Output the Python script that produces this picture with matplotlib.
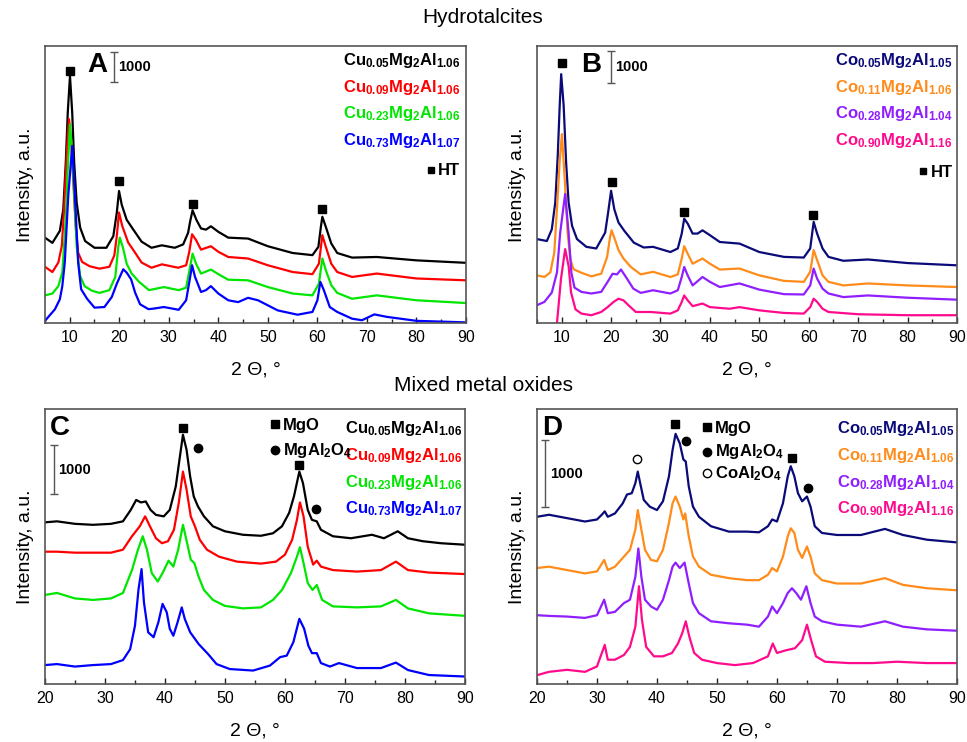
import matplotlib
matplotlib.use('Agg')
import matplotlib.pyplot as plt
from matplotlib.ticker import MultipleLocator

plt.rcParams['font.family'] = ['Liberation Sans', 'DejaVu Sans']
plt.rcParams['mathtext.fontset'] = 'custom'
plt.rcParams['mathtext.rm'] = 'Liberation Sans'
plt.rcParams['mathtext.bf'] = 'Liberation Sans:bold'

# ---- Panel A: Cu hydrotalcites (2theta, counts) ----
a1_t = [5, 6.5, 8, 8.7, 9.2, 9.6, 10.05, 10.5, 10.9, 11.4, 12.1, 13.1, 15, 17.4, 18.8, 19.5, 19.95, 20.5, 21.5, 22.8,
        24.5, 26.5, 28.6, 31.2, 32.9, 33.9, 34.3, 34.8, 35.6, 36.5, 37.5, 38.5, 40, 42, 46, 50, 55, 59, 60.2, 60.7,
        61, 61.7, 62.8, 64, 67, 72, 80, 90]
a1_i = [2780, 2610, 3000, 3700, 5220, 6850, 8050, 6850, 5220, 3920, 3110, 2670, 2450, 2450, 2830, 3590, 4300, 3850,
        3360, 3050, 2650, 2450, 2530, 2450, 2560, 2940, 3300, 3670, 3350, 3080, 3040, 3150, 2970, 2780, 2750, 2500,
        2280, 2210, 2480, 3130, 3460, 3130, 2590, 2280, 2130, 2150, 2040, 1960]
a2_t = [5, 6.5, 7.7, 8.4, 8.9, 9.4, 9.85, 10.3, 10.7, 11.2, 11.7, 12.5, 14, 16, 18, 19.0, 19.5, 19.95, 20.6, 21.8,
        23.2, 24.5, 26.5, 28.6, 31.9, 33.5, 34.1, 34.7, 35.5, 36.5, 38.5, 40, 42, 46, 50, 55, 59, 60.3, 61, 61.7,
        62.8, 64, 67, 72, 80, 90]
a2_i = [1830, 1660, 1970, 2510, 3810, 5500, 6640, 5900, 4680, 3160, 2290, 1990, 1850, 1770, 1830, 2200, 2830, 3600,
        3160, 2620, 2290, 1970, 1800, 1910, 1800, 1880, 2290, 2890, 2700, 2390, 2500, 2320, 2150, 2100, 1880, 1660,
        1590, 1930, 2860, 2480, 1930, 1660, 1500, 1610, 1450, 1390]
a3_t = [5, 6.5, 7.7, 8.5, 9.2, 9.6, 10.05, 10.5, 10.9, 11.4, 12.1, 13, 14.5, 16, 18, 19.2, 19.8, 20.1, 20.7, 21.5,
        22.5, 24, 26, 29, 32, 33.5, 34.3, 34.8, 35.5, 36.5, 38.5, 40, 42, 46, 50, 55, 59, 60.3, 61, 61.7, 62.8, 64,
        67, 72, 80, 90]
a3_i = [900, 960, 1200, 1640, 3380, 5000, 6470, 5500, 4250, 2510, 1530, 1200, 1050, 980, 1070, 1500, 2480, 2780, 2480,
        1930, 1610, 1340, 1070, 1170, 1070, 1150, 1830, 2260, 1930, 1610, 1740, 1590, 1410, 1390, 1170, 960, 900,
        1280, 2100, 1720, 1230, 980, 790, 900, 740, 650]
a4_t = [5, 7, 8, 8.5, 9.0, 9.7, 10.5, 11.05, 11.7, 12.3, 13.5, 15, 17, 18.5, 19.5, 20.8, 21.5, 22.4, 23.2, 24.2,
        25.9, 27, 29, 32, 33.5, 34.2, 34.7, 35.3, 36.5, 37.5, 38.5, 40, 42, 44, 46, 48, 52, 56, 59, 60, 60.6, 61.3,
        62.5, 64, 67, 69, 71.5, 74, 80, 90]
a4_i = [70, 445, 770, 1200, 1970, 4140, 5770, 4140, 1970, 1100, 790, 500, 520, 850, 1280, 1750, 1640, 1420, 990, 610,
        450, 470, 520, 430, 740, 1390, 1880, 1500, 1010, 1070, 1200, 960, 740, 680, 820, 740, 410, 270, 360, 740,
        1340, 1070, 520, 360, 140, 90, 280, 200, 70, 20]
a_ht_t = [10, 20, 34.8, 60.9]
a_ht_i = [8220, 4630, 3870, 3720]

# ---- Panel B: Co hydrotalcites ----
b1_t = [5, 7, 8, 8.7, 9.2, 9.6, 9.9, 10.4, 10.9, 11.4, 12.1, 13.1, 15, 17, 18.8, 19.4, 20, 20.65, 21.5, 22.7, 24.6,
        26.6, 28.5, 32, 33.5, 34.3, 34.8, 35.5, 36.5, 37.5, 38.5, 40, 42, 46, 50, 55, 59, 60.3, 61, 61.7, 62.8, 64,
        67, 72, 80, 90]
b1_i = [2590, 2530, 2890, 3720, 5160, 6710, 7680, 6710, 4950, 3720, 3000, 2590, 2350, 2300, 2790, 3410, 4080, 3510,
        3100, 2840, 2480, 2330, 2350, 2190, 2300, 2760, 3220, 3070, 2760, 2760, 2860, 2710, 2500, 2450, 2190, 2040,
        2020, 2300, 3120, 2760, 2300, 2040, 1920, 1960, 1850, 1780]
b2_t = [5, 6.5, 7.7, 8.5, 9.2, 9.6, 10.05, 10.7, 11.2, 11.75, 12.4, 14, 16, 18, 19.2, 19.8, 20.1, 20.7, 21.5, 22.5,
        24, 26, 28.5, 32, 33.5, 34.3, 34.8, 35.5, 36.5, 38.5, 40, 42, 46, 50, 55, 59, 60.3, 61, 61.7, 62.8, 64, 67,
        72, 80, 90]
b2_i = [1470, 1420, 1560, 2170, 3920, 5000, 5830, 4230, 2790, 1970, 1660, 1550, 1440, 1520, 2040, 2660, 2860, 2610,
        2250, 1990, 1730, 1500, 1580, 1420, 1500, 1990, 2370, 2140, 1830, 1990, 1830, 1650, 1680, 1470, 1300, 1270,
        1580, 2250, 1940, 1470, 1270, 1160, 1220, 1160, 1110]
b3_t = [5, 6.5, 8, 9.05, 9.7, 10.7, 11.4, 11.95, 12.6, 14, 16, 18, 19.3, 20.3, 21.2, 22, 23, 24.5, 26, 28.5, 32,
        33.5, 34.3, 34.8, 35.5, 36.5, 38.5, 40, 42, 46, 50, 55, 59, 60.3, 61, 61.7, 62.8, 64, 67, 72, 80, 90]
b3_i = [550, 650, 940, 1560, 2790, 3980, 2790, 1560, 1090, 960, 910, 960, 1270, 1520, 1500, 1650, 1420, 1060, 930,
        1010, 910, 1010, 1420, 1730, 1470, 1160, 1420, 1270, 1110, 1220, 1030, 890, 880, 1160, 1680, 1370, 1060, 910,
        800, 850, 780, 720]
b4_t = [9.05, 9.85, 10.7, 11.4, 11.9, 12.8, 14, 16, 18, 19.3, 20.5, 21.5, 22.5, 23.5, 25, 28, 32, 33.5, 34.3, 34.8,
        35.5, 36.5, 38.5, 40, 44, 46, 50, 55, 59, 60.3, 61, 61.7, 62.8, 64, 70, 80, 90]
b4_i = [0, 1350, 2280, 1760, 940, 420, 290, 240, 340, 490, 650, 750, 700, 550, 340, 340, 290, 390, 650, 850, 700,
        520, 600, 490, 440, 490, 390, 310, 290, 490, 750, 650, 440, 340, 270, 240, 240]
b_ht_t = [10, 20.25, 34.8, 60.9]
b_ht_i = [8020, 4360, 3420, 3320]

# ---- Panel C: Cu mixed oxides ----
c1_t = [20, 22, 25, 28, 31, 33, 34.3, 35.2, 36, 36.8, 37.6, 38.5, 39.8, 40.8, 41.8, 42.5, 43, 43.6, 44.2, 44.8, 45.5,
        46.5, 48, 50, 53, 56, 58, 59.5, 60.7, 61.5, 62.4, 63, 63.8, 64.5, 65.3, 66, 68, 71, 74.5, 76.5, 78.8, 80.5,
        83, 86, 90]
c1_i = [3250, 3270, 3220, 3200, 3220, 3270, 3500, 3700, 3650, 3670, 3500, 3400, 3370, 3500, 3970, 4580, 5010, 4710,
        4170, 3770, 3570, 3370, 3170, 3070, 3000, 2980, 3030, 3170, 3440, 3770, 4270, 4040, 3500, 3300, 3270, 3100,
        2970, 2930, 3000, 2930, 3070, 2930, 2870, 2830, 2800]
c2_t = [20, 22, 25, 28, 31, 33, 34.5, 35.8, 36.7, 37.5, 38.5, 39.5, 40.5, 41.5, 42.3, 43, 43.6, 44.3, 45, 45.8, 47,
        49, 52, 56, 58.5, 60, 61.2, 62, 62.5, 63.1, 63.8, 64.7, 65.3, 66, 68, 72, 76, 78.5, 80.5, 84, 90]
c2_i = [2660, 2660, 2640, 2640, 2640, 2700, 2970, 3170, 3370, 3170, 2930, 2830, 2870, 3100, 3640, 4270, 3910, 3370,
        3170, 2900, 2700, 2560, 2460, 2420, 2460, 2600, 2900, 3300, 3650, 3370, 2760, 2400, 2480, 2360, 2290, 2260,
        2290, 2460, 2290, 2240, 2210]
c3_t = [20, 22, 25, 28, 31, 33, 34.5, 35.5, 36.3, 37, 37.8, 38.8, 39.6, 40.6, 41.4, 42.2, 43, 43.7, 44.3, 44.9, 45.6,
        46.5, 48, 50, 53, 56, 58, 59.5, 61, 62, 62.5, 63.1, 63.8, 64.6, 65.3, 66.2, 68, 72, 76, 78.5, 80.5, 84, 90]
c3_i = [1790, 1830, 1720, 1690, 1720, 1830, 2290, 2700, 2970, 2700, 2230, 2060, 2230, 2480, 2360, 2700, 3200, 2830,
        2500, 2430, 2160, 1890, 1690, 1570, 1520, 1540, 1690, 1890, 2230, 2560, 2750, 2430, 2030, 1890, 1990, 1690,
        1560, 1540, 1560, 1690, 1520, 1420, 1370]
c4_t = [20, 22, 25, 28, 31, 33, 34.2, 35, 35.6, 36.1, 36.5, 37.2, 38.1, 38.9, 39.6, 40.3, 40.8, 41.4, 42.1, 42.8,
        43.3, 44.2, 45.6, 47.2, 48.6, 50.8, 54.7, 57.5, 59.2, 60.3, 61.4, 62.4, 63.2, 63.9, 64.5, 65.3, 66, 67.5,
        69, 72, 76, 78.5, 80.5, 84, 90]
c4_i = [380, 400, 350, 380, 400, 480, 700, 1170, 1910, 2310, 1640, 1040, 940, 1240, 1610, 1440, 1110, 970, 1240, 1540,
        1310, 1040, 805, 600, 400, 300, 270, 370, 540, 570, 840, 1310, 1110, 770, 620, 620, 420, 350, 420, 320, 320,
        430, 280, 180, 150]
c_mgo_t = [43.05, 62.4]
c_mgo_i = [5150, 4400]
c_spinel_t = [45.5, 65.25]
c_spinel_i = [4740, 3520]

# ---- Panel D: Co mixed oxides ----
d1_t = [20, 22, 25, 28, 30, 30.8, 31.3, 31.8, 33, 34.3, 35, 35.8, 36.4, 36.8, 37.2, 37.8, 38.8, 40, 41, 42, 42.6,
        43.1, 43.8, 44.4, 44.8, 45.3, 46, 47, 49, 52, 55, 57, 58.5, 59.2, 60, 61, 61.8, 62.3, 62.9, 63.5, 64.2, 65,
        65.6, 66.3, 67.5, 70, 74, 78, 81, 85, 90]
d1_i = [2480, 2510, 2460, 2410, 2440, 2510, 2560, 2480, 2530, 2680, 2810, 2830, 2980, 3150, 2980, 2730, 2630, 2580,
        2710, 3080, 3470, 3710, 3570, 3330, 3300, 2930, 2630, 2480, 2340, 2260, 2260, 2250, 2340, 2440, 2410, 2680,
        3080, 3230, 3080, 2830, 2710, 2780, 2630, 2340, 2240, 2210, 2210, 2300, 2210, 2140, 2100]
d2_t = [20, 22, 25, 28, 30, 31.2, 31.8, 33, 34.5, 35.5, 36.4, 36.8, 37.3, 38, 39, 40, 41, 42, 42.6, 43.1, 43.8, 44.4,
        44.7, 45.3, 46, 47, 49, 52, 55, 57, 58.5, 59.2, 60, 61, 61.8, 62.3, 62.9, 63.5, 64.2, 65, 65.6, 66.3, 67.5,
        70, 74, 78, 81, 85, 90]
d2_i = [1720, 1740, 1690, 1640, 1670, 1840, 1690, 1740, 1890, 1990, 2290, 2580, 2340, 1990, 1840, 1820, 1990, 2390,
        2680, 2780, 2630, 2440, 2530, 2190, 1890, 1740, 1620, 1570, 1540, 1540, 1620, 1720, 1670, 1890, 2190, 2310,
        2240, 1990, 1870, 2040, 1890, 1640, 1540, 1490, 1490, 1570, 1470, 1420, 1390]
d3_t = [20, 22, 25, 28, 30, 31.2, 31.8, 33, 34.5, 35.5, 36.4, 36.9, 37.4, 38, 39, 40, 41, 42, 42.6, 43.1, 43.8, 44.6,
        45.3, 46, 47, 49, 52, 55, 57, 58.5, 59.2, 60, 61, 61.8, 62.5, 63.2, 64, 64.9, 65.6, 66.3, 67.5, 70, 74, 78,
        81, 85, 90]
d3_i = [1020, 1010, 1000, 980, 1020, 1250, 1050, 1070, 1200, 1250, 1590, 2010, 1590, 1250, 1150, 1100, 1250, 1540,
        1740, 1800, 1720, 1800, 1490, 1200, 1050, 930, 900, 880, 850, 1000, 1150, 1050, 1200, 1350, 1420, 1350, 1250,
        1450, 1200, 1000, 930, 880, 850, 930, 850, 810, 790]
d4_t = [20, 22, 25, 28, 30, 31.3, 31.8, 33, 34.5, 35.5, 36.4, 37, 37.5, 38.2, 39.5, 41, 42.5, 43.5, 44.2, 44.8, 45.4,
        46.2, 47.5, 50, 53, 56, 58.5, 59.3, 60, 61.5, 63, 64.2, 65, 65.7, 66.5, 68, 72, 76, 80, 85, 90]
d4_i = [130, 180, 210, 180, 260, 580, 360, 360, 430, 550, 850, 1450, 950, 550, 410, 410, 460, 600, 750, 930, 700, 460,
        360, 310, 280, 310, 410, 600, 460, 500, 530, 650, 880, 650, 410, 330, 310, 310, 330, 310, 310]
d_mgo_t = [43.0, 62.5]
d_mgo_i = [3850, 3350]
d_spinel_t = [44.9, 65.1]
d_spinel_i = [3610, 2910]
d_coal_t = [36.7]
d_coal_i = [3340]

cu_labels = [r'$\mathbf{Cu_{0.05}Mg_{2}Al_{1.06}}$', r'$\mathbf{Cu_{0.09}Mg_{2}Al_{1.06}}$',
             r'$\mathbf{Cu_{0.23}Mg_{2}Al_{1.06}}$', r'$\mathbf{Cu_{0.73}Mg_{2}Al_{1.07}}$']
co_labels = [r'$\mathbf{Co_{0.05}Mg_{2}Al_{1.05}}$', r'$\mathbf{Co_{0.11}Mg_{2}Al_{1.06}}$',
             r'$\mathbf{Co_{0.28}Mg_{2}Al_{1.04}}$', r'$\mathbf{Co_{0.90}Mg_{2}Al_{1.16}}$']
cu_colors = ['#000000', '#ff0000', '#00e600', '#0000ff']
co_colors = ['#0a0a78', '#ff8c1a', '#8f1fff', '#ff0a8c']

fig = plt.figure(figsize=(9.67, 7.42), dpi=100)
axA = fig.add_axes([0.0465, 0.5647, 0.4354, 0.3733])
axB = fig.add_axes([0.5553, 0.5647, 0.4343, 0.3733])
axC = fig.add_axes([0.0465, 0.0782, 0.4343, 0.3706])
axD = fig.add_axes([0.5553, 0.0782, 0.4343, 0.3706])


def setup(ax, xlim, ylim, letter, lx, bar_x, bar_y, txt_x):
    ax.set_xlim(*xlim)
    ax.set_ylim(*ylim)
    ax.set_yticks([])
    ax.xaxis.set_major_locator(MultipleLocator(10))
    ax.xaxis.set_minor_locator(MultipleLocator(5))
    ax.tick_params(axis='x', which='major', direction='in', length=4, width=1, labelsize=11.5, pad=5,
                   colors='#222222', labelcolor='black')
    ax.tick_params(axis='x', which='minor', direction='in', length=3, width=1, colors='#222222')
    for s in ax.spines.values():
        s.set_color('#555555')
        s.set_linewidth(1.2)
    ax.set_xlabel('2 \u0398, \u00b0', fontsize=14, labelpad=12)
    ax.set_ylabel('Intensity, a.u.', fontsize=14, labelpad=8)
    ax.text(lx, 0.93, letter, transform=ax.transAxes, fontsize=20, fontweight='bold', va='center', ha='left')
    ax.errorbar([bar_x], [bar_y], yerr=500, color='#555555', capsize=3, elinewidth=1, capthick=1)
    ax.text(txt_x, bar_y, '1000', fontsize=10.5, fontweight='bold', va='center', ha='left')


def legend(ax, labels, colors, ys, x):
    for lab, col, y in zip(labels, colors, ys):
        ax.text(x, y, lab, transform=ax.transAxes, color=col, fontsize=12, ha='right', va='baseline')


LW = 1.6

# Panel A
setup(axA, (5, 90), (0, 9022), 'A', 0.10, 18.9, 8340, 19.7)
for t, i, c in zip([a1_t, a2_t, a3_t, a4_t], [a1_i, a2_i, a3_i, a4_i], cu_colors):
    axA.plot(t, i, color=c, lw=LW)
axA.plot(a_ht_t, a_ht_i, 's', color='black', ms=5.5)
legend(axA, cu_labels, cu_colors, [0.930, 0.835, 0.740, 0.643], 0.986)
axA.plot([0.917], [0.553], 's', color='black', ms=5, transform=axA.transAxes)
axA.text(0.986, 0.534, 'HT', transform=axA.transAxes, fontsize=12, fontweight='bold', ha='right', va='baseline')

# Panel B
setup(axB, (5, 90), (0, 8549), 'B', 0.105, 20.0, 7900, 20.8)
for t, i, c in zip([b1_t, b2_t, b3_t, b4_t], [b1_i, b2_i, b3_i, b4_i], co_colors):
    axB.plot(t, i, color=c, lw=LW)
axB.plot(b_ht_t, b_ht_i, 's', color='black', ms=5.5)
legend(axB, co_labels, co_colors, [0.931, 0.835, 0.739, 0.643], 0.990)
axB.plot([0.919], [0.549], 's', color='black', ms=5, transform=axB.transAxes)
axB.text(0.990, 0.528, 'HT', transform=axB.transAxes, fontsize=12, fontweight='bold', ha='right', va='baseline')

# Panel C
setup(axC, (20, 90), (0, 5529), 'C', 0.012, 21.5, 4310, 22.2)
for t, i, c in zip([c1_t, c2_t, c3_t, c4_t], [c1_i, c2_i, c3_i, c4_i], cu_colors):
    axC.plot(t, i, color=c, lw=LW)
axC.plot(c_mgo_t, c_mgo_i, 's', color='black', ms=5.5)
axC.plot(c_spinel_t, c_spinel_i, 'o', color='black', ms=6)
legend(axC, cu_labels, cu_colors, [0.912, 0.815, 0.717, 0.621], 0.995)
axC.plot([0.548], [0.945], 's', color='black', ms=5.5, transform=axC.transAxes)
axC.plot([0.548], [0.851], 'o', color='black', ms=6, transform=axC.transAxes)
axC.text(0.567, 0.924, 'MgO', transform=axC.transAxes, fontsize=12, fontweight='bold', va='baseline')
axC.text(0.567, 0.833, r'$\mathbf{MgAl_{2}O_{4}}$', transform=axC.transAxes, fontsize=12, va='baseline')

# Panel D
setup(axD, (20, 90), (0, 4079), 'D', 0.012, 21.33, 3120, 22.2)
for t, i, c in zip([d1_t, d2_t, d3_t, d4_t], [d1_i, d2_i, d3_i, d4_i], co_colors):
    axD.plot(t, i, color=c, lw=LW)
axD.plot(d_mgo_t, d_mgo_i, 's', color='black', ms=5.5)
axD.plot(d_spinel_t, d_spinel_i, 'o', color='black', ms=6)
axD.plot(d_coal_t, d_coal_i, 'o', mfc='white', mec='black', ms=6)
legend(axD, co_labels, co_colors, [0.912, 0.815, 0.717, 0.621], 0.995)
axD.plot([0.405], [0.935], 's', color='black', ms=5.5, transform=axD.transAxes)
axD.plot([0.405], [0.844], 'o', color='black', ms=6, transform=axD.transAxes)
axD.plot([0.405], [0.767], 'o', mfc='white', mec='black', ms=6, transform=axD.transAxes)
axD.text(0.424, 0.914, 'MgO', transform=axD.transAxes, fontsize=12, fontweight='bold', va='baseline')
axD.text(0.424, 0.829, r'$\mathbf{MgAl_{2}O_{4}}$', transform=axD.transAxes, fontsize=12, va='baseline')
axD.text(0.424, 0.749, r'$\mathbf{CoAl_{2}O_{4}}$', transform=axD.transAxes, fontsize=12, va='baseline')

fig.text(0.4995, 0.976, 'Hydrotalcites', fontsize=15, ha='center', va='center')
fig.text(0.4995, 0.481, 'Mixed metal oxides', fontsize=15, ha='center', va='center')

fig.savefig('out.png', dpi=100)
